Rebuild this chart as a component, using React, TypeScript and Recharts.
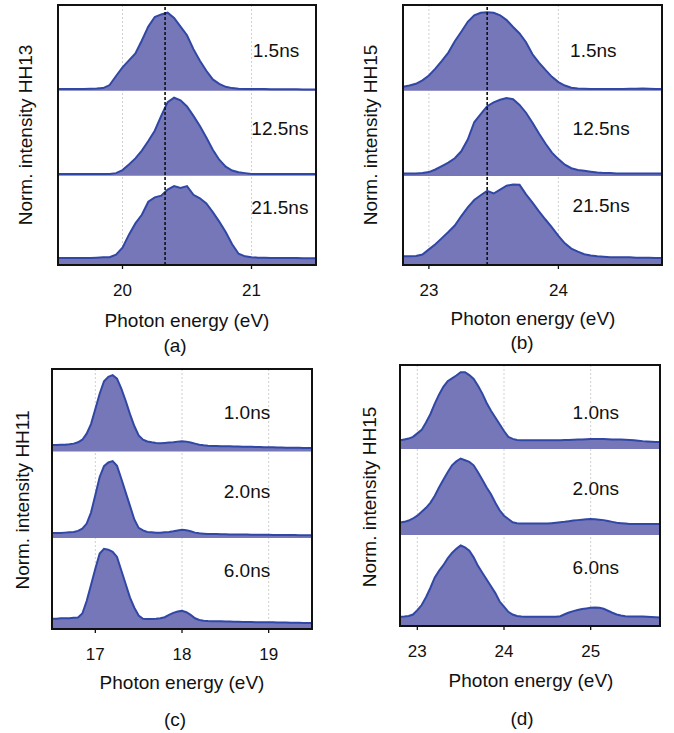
import React from 'react';
import { ComposedChart, Area, Line, XAxis, YAxis, CartesianGrid, ReferenceLine, ReferenceDot } from 'recharts';

// ---------- Panel (a): HH13 ----------
const energyA = [19.5, 19.55, 19.6, 19.65, 19.7, 19.75, 19.8, 19.85, 19.9, 19.95, 20.0, 20.05, 20.1, 20.15, 20.2, 20.25, 20.3, 20.35, 20.4, 20.45, 20.5, 20.55, 20.6, 20.65, 20.7, 20.75, 20.8, 20.85, 20.9, 20.95, 21.0, 21.05, 21.1, 21.15, 21.2, 21.25, 21.3, 21.35, 21.4, 21.45, 21.5];
const hh13_1p5 = [0.02, 0.02, 0.02, 0.02, 0.02, 0.022, 0.025, 0.03, 0.065, 0.17, 0.27, 0.35, 0.43, 0.58, 0.74, 0.85, 0.88, 0.9, 0.84, 0.74, 0.64, 0.48, 0.345, 0.23, 0.13, 0.08, 0.045, 0.03, 0.022, 0.02, 0.02, 0.02, 0.02, 0.018, 0.018, 0.018, 0.016, 0.016, 0.015, 0.015, 0.015];
const hh13_12p5 = [0.02, 0.02, 0.02, 0.02, 0.02, 0.02, 0.02, 0.02, 0.02, 0.03, 0.065, 0.13, 0.2, 0.29, 0.4, 0.52, 0.69, 0.85, 0.9, 0.87, 0.8, 0.69, 0.575, 0.44, 0.3, 0.185, 0.105, 0.06, 0.04, 0.03, 0.02, 0.02, 0.02, 0.02, 0.02, 0.02, 0.02, 0.02, 0.02, 0.02, 0.02];
const hh13_21p5 = [0.08, 0.08, 0.08, 0.08, 0.08, 0.082, 0.085, 0.088, 0.09, 0.12, 0.2, 0.35, 0.48, 0.58, 0.73, 0.78, 0.8, 0.87, 0.91, 0.89, 0.91, 0.81, 0.77, 0.71, 0.61, 0.5, 0.38, 0.24, 0.13, 0.1, 0.09, 0.085, 0.085, 0.082, 0.08, 0.08, 0.08, 0.08, 0.078, 0.078, 0.078];
const delaysAB = ['1.5ns', '12.5ns', '21.5ns'];
const ticksA = [20, 21];

// ---------- Panel (b): HH15 ----------
const energyB = [22.8, 22.85, 22.9, 22.95, 23.0, 23.05, 23.1, 23.15, 23.2, 23.25, 23.3, 23.35, 23.4, 23.45, 23.5, 23.55, 23.6, 23.65, 23.7, 23.75, 23.8, 23.85, 23.9, 23.95, 24.0, 24.05, 24.1, 24.15, 24.2, 24.25, 24.3, 24.35, 24.4, 24.45, 24.5, 24.55, 24.6, 24.65, 24.7, 24.75, 24.8];
const hh15_1p5 = [0.045, 0.06, 0.08, 0.12, 0.175, 0.255, 0.345, 0.44, 0.57, 0.68, 0.795, 0.87, 0.9, 0.905, 0.9, 0.87, 0.815, 0.735, 0.66, 0.56, 0.42, 0.325, 0.24, 0.16, 0.1, 0.06, 0.035, 0.025, 0.022, 0.02, 0.02, 0.02, 0.02, 0.02, 0.02, 0.022, 0.022, 0.025, 0.022, 0.02, 0.02];
const hh15_12p5 = [0.03, 0.03, 0.03, 0.035, 0.045, 0.075, 0.115, 0.155, 0.205, 0.285, 0.42, 0.62, 0.715, 0.805, 0.85, 0.88, 0.9, 0.885, 0.82, 0.73, 0.615, 0.49, 0.375, 0.27, 0.195, 0.13, 0.09, 0.07, 0.06, 0.05, 0.04, 0.035, 0.035, 0.03, 0.03, 0.03, 0.03, 0.03, 0.03, 0.03, 0.03];
const hh15_21p5 = [0.1, 0.1, 0.105, 0.12, 0.18, 0.24, 0.31, 0.38, 0.455, 0.565, 0.665, 0.75, 0.805, 0.855, 0.825, 0.87, 0.915, 0.93, 0.925, 0.815, 0.72, 0.62, 0.525, 0.435, 0.335, 0.25, 0.19, 0.155, 0.125, 0.11, 0.1, 0.095, 0.09, 0.09, 0.088, 0.088, 0.085, 0.085, 0.085, 0.082, 0.08];
const ticksB = [23, 24];

// ---------- Panel (c): HH11 ----------
const energyC = [16.5, 16.55, 16.6, 16.65, 16.7, 16.75, 16.8, 16.85, 16.9, 16.95, 17.0, 17.05, 17.1, 17.15, 17.2, 17.25, 17.3, 17.35, 17.4, 17.45, 17.5, 17.55, 17.6, 17.65, 17.7, 17.75, 17.8, 17.85, 17.9, 17.95, 18.0, 18.05, 18.1, 18.15, 18.2, 18.25, 18.3, 18.35, 18.4, 18.45, 18.5, 18.55, 18.6, 18.65, 18.7, 18.75, 18.8, 18.85, 18.9, 18.95, 19.0, 19.05, 19.1, 19.15, 19.2, 19.25, 19.3, 19.35, 19.4, 19.45, 19.5];
const hh11_1p0 = [0.075, 0.075, 0.078, 0.078, 0.082, 0.09, 0.105, 0.135, 0.205, 0.315, 0.49, 0.665, 0.81, 0.86, 0.88, 0.84, 0.725, 0.585, 0.43, 0.293, 0.185, 0.135, 0.115, 0.105, 0.098, 0.095, 0.098, 0.102, 0.105, 0.113, 0.117, 0.113, 0.102, 0.09, 0.078, 0.07, 0.065, 0.063, 0.062, 0.061, 0.06, 0.059, 0.058, 0.057, 0.055, 0.054, 0.053, 0.052, 0.05, 0.049, 0.048, 0.047, 0.045, 0.044, 0.043, 0.042, 0.042, 0.041, 0.04, 0.04, 0.04];
const hh11_2p0 = [0.057, 0.057, 0.057, 0.062, 0.067, 0.07, 0.082, 0.107, 0.167, 0.293, 0.497, 0.704, 0.829, 0.872, 0.887, 0.833, 0.684, 0.527, 0.371, 0.214, 0.117, 0.087, 0.07, 0.067, 0.062, 0.062, 0.067, 0.07, 0.077, 0.087, 0.094, 0.09, 0.077, 0.062, 0.054, 0.05, 0.047, 0.046, 0.045, 0.044, 0.042, 0.041, 0.04, 0.04, 0.039, 0.039, 0.038, 0.038, 0.037, 0.037, 0.037, 0.036, 0.036, 0.035, 0.035, 0.034, 0.034, 0.033, 0.033, 0.032, 0.032];
const hh11_6p0 = [0.119, 0.119, 0.124, 0.124, 0.124, 0.129, 0.132, 0.179, 0.323, 0.507, 0.695, 0.87, 0.925, 0.915, 0.89, 0.832, 0.675, 0.519, 0.362, 0.245, 0.155, 0.119, 0.116, 0.116, 0.119, 0.124, 0.136, 0.163, 0.186, 0.202, 0.209, 0.194, 0.163, 0.124, 0.104, 0.096, 0.092, 0.09, 0.089, 0.088, 0.087, 0.086, 0.084, 0.083, 0.082, 0.081, 0.08, 0.079, 0.079, 0.078, 0.078, 0.077, 0.076, 0.075, 0.074, 0.073, 0.072, 0.071, 0.07, 0.07, 0.069];
const delaysCD = ['1.0ns', '2.0ns', '6.0ns'];
const ticksC = [17, 18, 19];

// ---------- Panel (d): HH15 ----------
const energyD = [22.8, 22.85, 22.9, 22.95, 23.0, 23.05, 23.1, 23.15, 23.2, 23.25, 23.3, 23.35, 23.4, 23.45, 23.5, 23.55, 23.6, 23.65, 23.7, 23.75, 23.8, 23.85, 23.9, 23.95, 24.0, 24.05, 24.1, 24.15, 24.2, 24.25, 24.3, 24.35, 24.4, 24.45, 24.5, 24.55, 24.6, 24.65, 24.7, 24.75, 24.8, 24.85, 24.9, 24.95, 25.0, 25.05, 25.1, 25.15, 25.2, 25.25, 25.3, 25.35, 25.4, 25.45, 25.5, 25.55, 25.6, 25.65, 25.7, 25.75, 25.8];
const hh15d_1p0 = [0.099, 0.109, 0.119, 0.139, 0.179, 0.219, 0.304, 0.399, 0.519, 0.624, 0.714, 0.779, 0.812, 0.844, 0.883, 0.883, 0.849, 0.804, 0.726, 0.636, 0.529, 0.439, 0.362, 0.284, 0.206, 0.139, 0.116, 0.104, 0.099, 0.099, 0.099, 0.099, 0.099, 0.099, 0.099, 0.1, 0.1, 0.101, 0.102, 0.104, 0.106, 0.108, 0.11, 0.112, 0.114, 0.114, 0.114, 0.113, 0.111, 0.11, 0.109, 0.108, 0.107, 0.104, 0.1, 0.095, 0.09, 0.087, 0.084, 0.081, 0.079];
const hh15d_2p0 = [0.142, 0.15, 0.165, 0.189, 0.221, 0.265, 0.311, 0.369, 0.448, 0.545, 0.635, 0.721, 0.8, 0.845, 0.878, 0.858, 0.839, 0.8, 0.721, 0.635, 0.545, 0.467, 0.369, 0.283, 0.221, 0.182, 0.145, 0.135, 0.131, 0.131, 0.131, 0.131, 0.131, 0.131, 0.131, 0.135, 0.14, 0.145, 0.15, 0.157, 0.165, 0.17, 0.175, 0.18, 0.182, 0.18, 0.175, 0.17, 0.16, 0.15, 0.14, 0.135, 0.13, 0.125, 0.125, 0.125, 0.125, 0.125, 0.125, 0.125, 0.125];
const hh15d_6p0 = [0.105, 0.108, 0.115, 0.132, 0.183, 0.241, 0.331, 0.437, 0.555, 0.633, 0.699, 0.777, 0.84, 0.887, 0.925, 0.903, 0.865, 0.789, 0.691, 0.613, 0.535, 0.457, 0.378, 0.281, 0.222, 0.163, 0.132, 0.115, 0.108, 0.105, 0.105, 0.105, 0.105, 0.105, 0.105, 0.105, 0.105, 0.112, 0.135, 0.155, 0.171, 0.183, 0.195, 0.202, 0.21, 0.214, 0.21, 0.198, 0.175, 0.152, 0.132, 0.12, 0.112, 0.11, 0.11, 0.11, 0.108, 0.105, 0.103, 0.1, 0.097];
const ticksD = [23, 24, 25];

const FONT = '"Liberation Sans", Arial, Helvetica, sans-serif';
const FILL = '#7577b8';
const STROKE = '#3147a5';

type PanelProps = {
  px: number; py: number; pw: number; ph: number;
  energies: number[];
  series: number[][];
  bases: number[];
  domain: [number, number];
  ticks: number[];
  delays: string[];
  delayPos: { e: number; y: number }[];
  marker?: number;
  yLabel: string;
  yLabelAt: [number, number];
  titleAt: [number, number];
  caption: string;
  captionAt: [number, number];
};

function Panel(p: PanelProps) {
  const rows = p.energies.map((e, i) => {
    const row: Record<string, any> = { e };
    p.series.forEach((s, k) => {
      row['r' + k] = [p.bases[k], p.bases[k] + s[i]];
      row['t' + k] = p.bases[k] + s[i];
    });
    return row;
  });
  const txt: React.CSSProperties = { position: 'absolute', fontFamily: FONT, fontSize: 19, color: '#111', whiteSpace: 'nowrap', lineHeight: 1 };
  return (
    <>
      <div style={{ position: 'absolute', left: p.px - 10, top: p.py - 5 }}>
        <ComposedChart width={p.pw + 20} height={p.ph + 40} data={rows} margin={{ top: 5, right: 10, left: 10, bottom: 0 }}>
          <CartesianGrid horizontal={false} vertical={true} stroke="#cfcfcf" strokeDasharray="2 2" />
          <XAxis dataKey="e" type="number" domain={p.domain} ticks={p.ticks} allowDataOverflow interval={0}
            height={35} axisLine={false} tickSize={4} tickMargin={15}
            tickLine={{ stroke: '#111', strokeWidth: 1.3 }}
            tick={{ fontSize: 17, fill: '#111', fontFamily: FONT }} />
          <YAxis type="number" domain={[0, 3]} hide allowDataOverflow />
          {p.series.map((_, k) => (
            <Area key={'a' + k} dataKey={'r' + k} type="linear" stroke="none" fill={FILL} fillOpacity={1} isAnimationActive={false} />
          ))}
          {p.series.map((_, k) => (
            <Line key={'l' + k} dataKey={'t' + k} type="linear" stroke={STROKE} strokeWidth={2} dot={false} activeDot={false} isAnimationActive={false} />
          ))}
          {p.marker !== undefined && (
            <ReferenceLine x={p.marker} stroke="#111" strokeWidth={1.6} strokeDasharray="3 2" />
          )}
          {p.delays.map((d, k) => (
            <ReferenceDot key={'d' + k} x={p.delayPos[k].e} y={p.delayPos[k].y} r={0} fill="none" stroke="none"
              label={{ value: d, position: 'center', fontSize: 19, fill: '#111', fontFamily: FONT }} />
          ))}
        </ComposedChart>
      </div>
      <div style={{ position: 'absolute', left: p.px - 1, top: p.py - 1, width: p.pw + 2, height: p.ph + 2, border: '2px solid #111', boxSizing: 'border-box', pointerEvents: 'none' }} />
      <div style={{ ...txt, left: p.yLabelAt[0], top: p.yLabelAt[1], transform: 'translate(-50%, -50%) rotate(-90deg)' }}>{p.yLabel}</div>
      <div style={{ ...txt, left: p.titleAt[0], top: p.titleAt[1], transform: 'translate(-50%, -50%)' }}>Photon energy (eV)</div>
      <div style={{ ...txt, left: p.captionAt[0], top: p.captionAt[1], transform: 'translate(-50%, -50%)' }}>{p.caption}</div>
    </>
  );
}

export default function App() {
  return (
    <div style={{ position: 'absolute', left: 0, top: 0, width: 674, height: 733, background: '#fff', overflow: 'hidden' }}>
      <Panel px={58} py={5} pw={258} ph={260} energies={energyA}
        series={[hh13_1p5, hh13_12p5, hh13_21p5]} bases={[2.011, 1.03, 0]}
        domain={[19.5, 21.5]} ticks={ticksA} delays={delaysAB}
        delayPos={[{ e: 21.19, y: 2.48 }, { e: 21.22, y: 1.58 }, { e: 21.22, y: 0.67 }]}
        marker={20.33} yLabel="Norm. intensity HH13" yLabelAt={[25, 135]}
        titleAt={[187, 320]} caption="(a)" captionAt={[175, 345]} />
      <Panel px={403} py={5} pw={259} ph={260} energies={energyB}
        series={[hh15_1p5, hh15_12p5, hh15_21p5]} bases={[2.011, 1.027, 0]}
        domain={[22.8, 24.8]} ticks={ticksB} delays={delaysAB}
        delayPos={[{ e: 24.27, y: 2.48 }, { e: 24.33, y: 1.58 }, { e: 24.33, y: 0.69 }]}
        marker={23.45} yLabel="Norm. intensity HH15" yLabelAt={[370, 135]}
        titleAt={[533, 318]} caption="(b)" captionAt={[522, 342]} />
      <Panel px={52} py={369} pw={260} ph={260} energies={energyC}
        series={[hh11_1p0, hh11_2p0, hh11_6p0]} bases={[2.049, 1.05, 0]}
        domain={[16.5, 19.5]} ticks={ticksC} delays={delaysCD}
        delayPos={[{ e: 18.75, y: 2.5 }, { e: 18.75, y: 1.59 }, { e: 18.75, y: 0.68 }]}
        yLabel="Norm. intensity HH11" yLabelAt={[22, 500]}
        titleAt={[182, 682]} caption="(c)" captionAt={[175, 719]} />
      <Panel px={400} py={365} pw={260} ph={261} energies={energyD}
        series={[hh15d_1p0, hh15d_2p0, hh15d_6p0]} bases={[2.035, 1.047, 0]}
        domain={[22.8, 25.8]} ticks={ticksD} delays={delaysCD}
        delayPos={[{ e: 25.06, y: 2.46 }, { e: 25.06, y: 1.58 }, { e: 25.06, y: 0.67 }]}
        yLabel="Norm. intensity HH15" yLabelAt={[369, 497]}
        titleAt={[531, 680]} caption="(d)" captionAt={[522, 718]} />
    </div>
  );
}
